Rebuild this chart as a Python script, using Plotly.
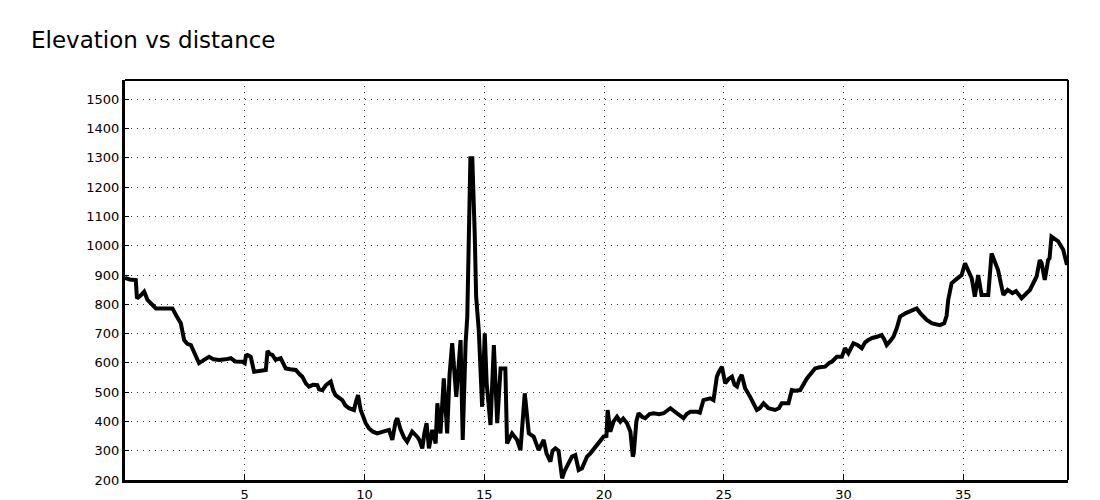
import plotly.graph_objects as go

title_text = "Elevation vs distance"

distance_km = [
    0.0, 0.2, 0.45, 0.5, 0.65, 0.8, 0.94, 1.1, 1.29, 1.6, 1.98, 2.15, 2.33, 2.47, 2.6, 2.75, 2.9, 3.09,
    3.3, 3.51, 3.7, 3.93, 4.2, 4.42, 4.6, 4.9, 5.0, 5.05, 5.11, 5.25, 5.39, 5.6, 5.88, 5.95, 6.05, 6.15,
    6.29, 6.5, 6.71, 6.9, 7.13, 7.3, 7.4, 7.55, 7.68, 7.85, 8.03, 8.1, 8.24, 8.4, 8.59, 8.7, 8.79, 9.07,
    9.2, 9.35, 9.56, 9.65, 9.73, 9.84, 9.95, 10.05, 10.18, 10.35, 10.53, 10.8, 11.02, 11.16, 11.3, 11.37,
    11.51, 11.65, 11.78, 11.99, 12.2, 12.3, 12.41, 12.5, 12.59, 12.69, 12.83, 12.97, 13.04, 13.17, 13.31,
    13.45, 13.55, 13.66, 13.83, 14.01, 14.1, 14.22, 14.29, 14.42, 14.5, 14.6, 14.66, 14.77, 14.91, 15.02,
    15.1, 15.26, 15.4, 15.54, 15.68, 15.88, 15.95, 16.16, 16.37, 16.51, 16.69, 16.86, 17.06, 17.27, 17.48,
    17.6, 17.76, 17.85, 17.97, 18.1, 18.25, 18.35, 18.52, 18.66, 18.8, 18.94, 19.08, 19.29, 19.43, 19.6,
    19.78, 19.98, 20.1, 20.15, 20.26, 20.4, 20.54, 20.68, 20.8, 20.96, 21.1, 21.2, 21.24, 21.35, 21.44,
    21.6, 21.72, 21.9, 22.07, 22.3, 22.49, 22.77, 23.04, 23.2, 23.32, 23.45, 23.6, 23.88, 24.0, 24.15,
    24.43, 24.57, 24.71, 24.8, 24.92, 25.06, 25.2, 25.34, 25.45, 25.55, 25.65, 25.75, 25.89, 26.1, 26.25,
    26.38, 26.5, 26.66, 26.86, 27.14, 27.3, 27.42, 27.7, 27.84, 28.0, 28.19, 28.47, 28.6, 28.81, 29.0,
    29.23, 29.4, 29.51, 29.72, 29.93, 30.06, 30.2, 30.41, 30.6, 30.76, 30.9, 31.03, 31.2, 31.39, 31.59,
    31.7, 31.8, 31.95, 32.08, 32.22, 32.36, 32.6, 32.9, 33.05, 33.2, 33.33, 33.47, 33.7, 34.02, 34.2,
    34.3, 34.37, 34.51, 34.7, 34.93, 35.07, 35.2, 35.35, 35.48, 35.62, 35.76, 36.04, 36.18, 36.3, 36.45,
    36.67, 36.85, 37.05, 37.2, 37.43, 37.6, 37.78, 38.06, 38.19, 38.27, 38.4, 38.54, 38.6, 38.68, 38.8,
    38.96, 39.17, 39.31, 39.37,
]

elevation_m = [
    890, 885, 883, 820, 830, 843, 815, 800, 786, 786, 786, 760, 735, 678, 665, 661, 630, 599,
    610, 621, 612, 610, 612, 616, 605, 604, 599, 625, 627, 621, 570, 572, 576, 641, 630, 627,
    610, 616, 581, 578, 576, 560, 553, 530, 519, 525, 524, 510, 507, 525, 536, 505, 490, 473,
    455, 445, 439, 470, 490, 439, 410, 394, 377, 365, 359, 365, 371, 337, 400, 411,
    371, 345, 331, 365, 348, 335, 308, 360, 394, 308, 371, 325, 462, 359, 547,
    359, 560, 667, 484, 678, 337, 667, 758, 1299, 1299, 1043, 826, 712, 450, 701,
    530, 388, 661, 394, 581, 581, 325, 359, 337, 302, 496, 359, 348, 302, 337,
    290, 263, 300, 308, 300, 206, 230, 257, 280, 285, 234, 240, 280, 291, 310,
    331, 348, 350, 439, 365, 400, 416, 399, 410, 394, 365, 280, 291, 400, 428,
    415, 411, 425, 428, 425, 428, 445, 428, 420, 411, 425, 433, 433, 430, 473,
    479, 473, 553, 570, 587, 530, 545, 553, 525, 519, 545, 559, 513, 484, 460,
    439, 445, 462, 445, 439, 445, 462, 462, 507, 505, 507, 547, 560, 581, 585,
    587, 600, 604, 621, 621, 650, 633, 667, 660, 650, 670, 678, 685, 689, 695,
    680, 661, 675, 689, 718, 758, 770, 781, 786, 770, 758, 747, 735, 729, 735,
    760, 815, 872, 885, 900, 940, 917, 889, 826, 900, 832, 832, 974, 945, 917,
    832, 849, 838, 845, 821, 835, 849, 895, 951, 940, 883, 951, 957, 1031, 1025,
    1015, 986, 940, 940,
]

x_tick_values = [5, 10, 15, 20, 25, 30, 35]
y_tick_values = [200, 300, 400, 500, 600, 700, 800, 900, 1000, 1100, 1200, 1300, 1400, 1500]

fig = go.Figure()
fig.add_trace(go.Scatter(
    x=distance_km, y=elevation_m, mode="lines",
    line=dict(color="black", width=4),
    showlegend=False, hoverinfo="skip",
))

tick_font = dict(family="DejaVu Sans", size=13, color="black")

fig.update_layout(
    width=1100, height=500,
    paper_bgcolor="white", plot_bgcolor="white",
    margin=dict(l=117, r=40, t=72, b=28, autoexpand=False),
    title=dict(
        text=title_text, x=23 / 1100, xref="container", xanchor="left",
        y=1 - 32 / 500, yref="container", yanchor="middle",
        font=dict(family="DejaVu Sans", size=23, color="black"),
    ),
    xaxis=dict(
        range=[0, 39.37], tickvals=x_tick_values, ticktext=[str(v) for v in x_tick_values],
        showgrid=True, gridcolor="#333", griddash="1px,5px", gridwidth=1,
        zeroline=False, showline=True, linecolor="black", linewidth=3,
        ticks="inside", ticklen=6, tickcolor="black", tickfont=tick_font,
        automargin=False,
    ),
    yaxis=dict(
        range=[200, 1566], tickvals=y_tick_values, ticktext=[str(v) for v in y_tick_values],
        showgrid=True, gridcolor="#333", griddash="1px,5px", gridwidth=1,
        zeroline=False, showline=True, linecolor="black", linewidth=3,
        ticks="inside", ticklen=4, tickcolor="black", tickfont=tick_font,
        automargin=False,
    ),
    shapes=[
        dict(type="line", xref="paper", yref="paper", x0=0, x1=1, y0=1, y1=1,
             line=dict(color="black", width=2)),
        dict(type="line", xref="paper", yref="paper", x0=1, x1=1, y0=0, y1=1,
             line=dict(color="black", width=2)),
    ],
)

fig.write_html("out.html")
